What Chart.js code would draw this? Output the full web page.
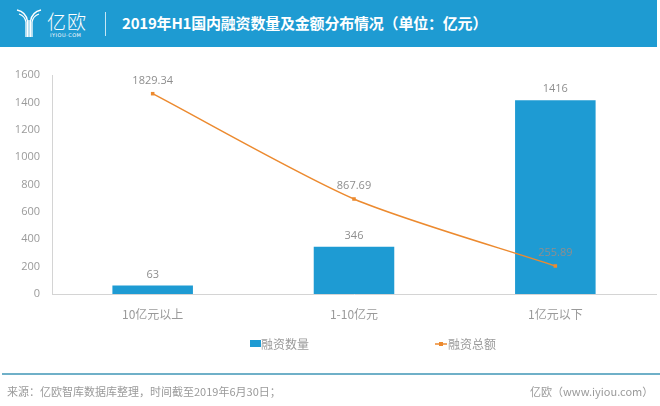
<!DOCTYPE html>
<html>
<head>
<meta charset="utf-8">
<script src="https://cdn.jsdelivr.net/npm/chart.js@4.4.0/dist/chart.umd.min.js"></script>
<style>
  html, body { margin:0; padding:0; background:#fff; }
  body { width:660px; height:406px; position:relative; overflow:hidden; font-family:"Noto Sans CJK SC", sans-serif; }
  #header { position:absolute; left:0; top:0; width:657px; height:47px; background:#1e9bd2; z-index:2; }
  #title { position:absolute; left:122px; top:12px; color:#fff; font-weight:bold; font-size:15px; line-height:22px; white-space:nowrap; letter-spacing:-0.2px; }
  #divider { position:absolute; left:105px; top:12px; width:1px; height:24px; background:rgba(255,255,255,0.75); }
  #logoText { position:absolute; left:47px; top:10px; color:#fff; font-size:19px; line-height:22px; font-weight:300; letter-spacing:1px; }
  #logoSub { position:absolute; left:50px; top:32px; color:#fff; font-size:5px; line-height:6px; letter-spacing:0.5px; font-family:"DejaVu Sans", sans-serif; }
  #logoIcon { position:absolute; left:16px; top:8px; }
  #chartWrap { position:absolute; left:0; top:0; width:660px; height:406px; z-index:1; }
  #footLine { position:absolute; left:2px; top:373px; width:658px; height:2px; background:#6fb0c8; z-index:2; }
  #src { position:absolute; left:7px; top:383px; font-size:11px; line-height:16px; color:#9a9a9a; white-space:nowrap; z-index:2; }
  #brand { position:absolute; left:530px; top:383px; font-size:11px; line-height:16px; color:#9a9a9a; white-space:nowrap; z-index:2; }
</style>
</head>
<body>
<div id="header">
  <svg id="logoIcon" width="26" height="30" viewBox="0 0 26 30">
    <g fill="none" stroke="#fff" stroke-width="1.3">
      <path d="M1 2 Q10 4 11.5 13 L11.5 29"/>
      <path d="M3 6 Q9 8 10 14 L10 29"/>
      <path d="M25 2 Q16 4 14.5 13 L14.5 29"/>
      <path d="M23 6 Q17 8 16 14 L16 29"/>
      <path d="M13 12 L13 29"/>
    </g>
  </svg>
  <div id="logoText">亿欧</div>
  <div id="logoSub">IYIOU·COM</div>
  <div id="divider"></div>
  <div id="title">2019年H1国内融资数量及金额分布情况（单位：亿元）</div>
</div>
<div id="chartWrap"><canvas id="c" width="660" height="406"></canvas></div>
<div id="footLine"></div>
<div id="src">来源：亿欧智库数据库整理，时间截至2019年6月30日；</div>
<div id="brand">亿欧（www.iyiou.com）</div>
<script>
const categories = ["10亿元以上", "1-10亿元", "1亿元以下"];
const countValues = [63, 346, 1416];
const amountValues = [1829.34, 867.69, 255.89];
const countLabel = "融资数量";
const amountLabel = "融资总额";
const yTicks = [0, 200, 400, 600, 800, 1000, 1200, 1400, 1600];

const BLUE = "#1e9bd3";
const ORANGE = "#ec8a2f";
const GRAY = "#8e8e8e";
const NUMFONT = '"Open Sans", "Noto Sans CJK SC", sans-serif';
const CJKFONT = '"Noto Sans CJK SC", sans-serif';

const labelPlugin = {
  id: "valueLabels",
  afterDatasetsDraw(chart) {
    const ctx = chart.ctx;
    ctx.save();
    ctx.font = "11px " + NUMFONT;
    ctx.fillStyle = GRAY;
    ctx.textAlign = "center";
    ctx.textBaseline = "middle";
    chart.data.datasets.forEach((ds, i) => {
      const meta = chart.getDatasetMeta(i);
      meta.data.forEach((el, j) => {
        const v = ds.data[j];
        const off = ds.type === "line" ? 13 : 11;
        const txt = ds.type === "line" ? v.toFixed(2) : String(v);
        ctx.fillText(txt, el.x, el.y - off);
      });
    });
    ctx.restore();
  }
};

const legendPlugin = {
  id: "customLegend",
  afterDraw(chart) {
    const ctx = chart.ctx;
    ctx.save();
    const y = 344;
    ctx.font = "12px " + CJKFONT;
    ctx.textBaseline = "middle";
    ctx.textAlign = "left";
    const ds0 = chart.data.datasets[1];
    ctx.fillStyle = ds0.backgroundColor;
    ctx.fillRect(250, y - 4, 11, 7);
    ctx.fillStyle = "#9a9a9a";
    ctx.fillText(ds0.label, 261, y);
    const ds1 = chart.data.datasets[0];
    ctx.strokeStyle = ds1.borderColor;
    ctx.lineWidth = 1.5;
    ctx.beginPath(); ctx.moveTo(435, y); ctx.lineTo(447, y); ctx.stroke();
    ctx.fillStyle = ds1.borderColor;
    ctx.fillRect(439, y - 2, 4, 4);
    ctx.fillStyle = "#9a9a9a";
    ctx.fillText(ds1.label, 448, y);
    ctx.restore();
  }
};

new Chart(document.getElementById("c"), {
  data: {
    labels: categories,
    datasets: [
      {
        type: "line",
        label: amountLabel,
        data: amountValues,
        yAxisID: "y1",
        borderColor: ORANGE,
        backgroundColor: ORANGE,
        borderWidth: 1.5,
        pointStyle: "rect",
        pointRadius: 2.5,
        pointBackgroundColor: ORANGE,
        pointBorderWidth: 0,
        tension: 0.25,
        order: 0
      },
      {
        type: "bar",
        label: countLabel,
        data: countValues,
        yAxisID: "y",
        backgroundColor: BLUE,
        borderWidth: 0,
        categoryPercentage: 0.8,
        barPercentage: 0.5,
        order: 1
      }
    ]
  },
  options: {
    responsive: false,
    animation: false,
    devicePixelRatio: 1,
    layout: { padding: { top: 75, left: 0, right: 0, bottom: 82 } },
    plugins: { legend: { display: false }, tooltip: { enabled: false } },
    scales: {
      x: {
        grid: { display: false, drawTicks: false },
        border: { display: true, color: "#d4d4d4", width: 1 },
        ticks: { color: "#9a9a9a", font: { size: 12, family: CJKFONT }, padding: 13 },
        afterFit(s) { s.height = 30; }
      },
      y: {
        min: 0, max: 1600,
        afterBuildTicks(s) { s.ticks = yTicks.map(v => ({ value: v })); },
        grid: { display: false, drawTicks: false },
        border: { display: true, color: "#d4d4d4", width: 1 },
        ticks: { color: "#9a9a9a", font: { size: 11, family: NUMFONT }, padding: 12, callback: v => String(v) },
        afterFit(s) { s.width = 52; }
      },
      y1: {
        display: false,
        position: "right",
        min: 0, max: 2000
      }
    }
  },
  plugins: [labelPlugin, legendPlugin]
});
</script>
</body>
</html>
